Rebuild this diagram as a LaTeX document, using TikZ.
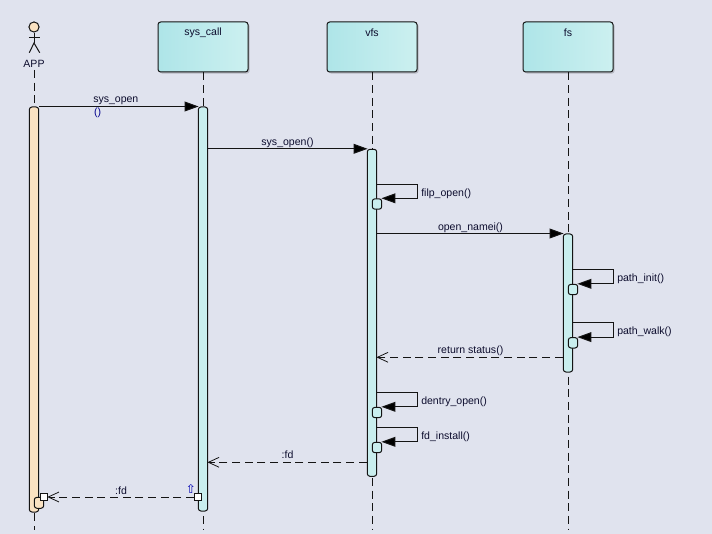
\documentclass[tikz,border=0pt]{standalone}
\usepackage{fontspec}
\setmainfont{Liberation Sans}
\newfontfamily\symfont{DejaVu Sans}
\usetikzlibrary{arrows.meta,shadows}

\definecolor{diagrambg}{RGB}{224,227,238}
\definecolor{linedark}{RGB}{20,20,20}
\definecolor{labelnavy}{RGB}{12,12,45}
\definecolor{headleft}{RGB}{174,229,232}
\definecolor{headright}{RGB}{204,240,240}
\definecolor{barblue}{RGB}{201,238,238}
\definecolor{barskin}{RGB}{250,226,194}

\tikzset{
    headbox/.style={draw=linedark,line width=0.75pt,rounded corners=2pt,minimum width=67.5pt,minimum height=37.5pt,inner sep=0pt,left color=headleft,right color=headright,drop shadow={shadow xshift=1.2pt,shadow yshift=-1.2pt,fill=black,opacity=0.18}},
    lifeline/.style={draw=linedark,line width=0.75pt,dash pattern={on 6pt off 3.5pt}},
    actbar/.style={draw=linedark,line width=0.75pt,rounded corners=2pt,minimum width=7.1pt,inner sep=0pt,fill=barblue},
    selfbox/.style={draw=linedark,line width=0.75pt,rounded corners=2pt,minimum width=7.1pt,minimum height=7.8pt,inner sep=0pt,fill=barblue},
    retsquare/.style={draw=linedark,line width=0.75pt,minimum size=5.4pt,inner sep=0pt,fill=white},
    call/.style={draw=linedark,line width=0.75pt,shorten >=-0.6pt,-{Triangle[length=10.5pt,width=7.4pt,fill=black]}},
    reply/.style={draw=linedark,line width=0.75pt,dash pattern={on 6pt off 3.5pt},shorten >=-0.6pt,-{Straight Barb[length=8pt,width=7.4pt,line width=0.6pt]}},
    msg/.style={inner sep=0pt,text=labelnavy,font=\fontsize{7.9}{9.5}\selectfont}
}

\begin{document}
\begin{tikzpicture}[x=0.75pt,y=0.75pt,yscale=-1,xscale=1]
    \fill [diagrambg] (0,0) rectangle (712,534);
    \useasboundingbox (0,0) rectangle (712,534);

    % Lifelines
    \coordinate (append) at (34,530);
    \coordinate (syscallend) at (203,530);
    \coordinate (vfsend) at (372,530);
    \coordinate (fsend) at (568,530);
    \coordinate (appstart) at (34,70);

    % Head boxes
    \node [headbox] (syscallhead) at (203,47) {};
    \node [headbox] (vfshead) at (372,47) {};
    \node [headbox] (fshead) at (568,47) {};
    \node [msg] (syscalltext) at (203,32.5) {sys\_call};
    \node [msg] (vfstext) at (372,32.5) {vfs};
    \node [msg] (fstext) at (568,32.5) {fs};

    \draw [lifeline] (appstart) -- (append);
    \draw [lifeline] (syscallhead.south) -- (syscallend);
    \draw [lifeline] (vfshead.south) -- (vfsend);
    \draw [lifeline] (fshead.south) -- (fsend);

    % Actor
    \node [circle,draw=linedark,line width=0.75pt,fill=barskin,minimum size=7.6pt,inner sep=0pt] (apphead) at (34,27) {};
    \coordinate (apphip) at (34,43);
    \coordinate (appfootl) at (29.3,52.7);
    \coordinate (appfootr) at (39.7,52.7);
    \coordinate (apparml) at (28.8,37.3);
    \coordinate (apparmr) at (39.7,37.3);
    \draw [linedark,line width=0.75pt] (apphead.south) -- (apphip);
    \draw [linedark,line width=0.75pt] (apparml) -- (apparmr);
    \draw [linedark,line width=0.75pt] (appfootl) -- (apphip) -- (appfootr);
    \node [msg] (apptext) at (34,64) {APP};

    % Activation bars
    \node [actbar,fill=barskin,minimum height=303.75pt] (appbar) at (34,309.5) {};
    \node [actbar,minimum height=303pt] (syscallbar) at (203,309) {};
    \node [actbar,minimum height=245.25pt] (vfsbar) at (372,312.8) {};
    \node [actbar,minimum height=103.5pt] (fsbar) at (568,303) {};

    % Nested bar of the actor
    \node [actbar,fill=barskin,minimum height=8.2pt] (appnested) at (39,502.8) {};

    % sys_open from the actor
    \draw [call] (appbar.north east) -- (syscallbar.north west);
    \node [msg,anchor=north west,fill=diagrambg,inner sep=1pt,text=blue!55!black] (sysopenparen) at (92.5,106.5) {()};
    \node [msg,anchor=west] (sysopentext) at (93,101) {sys\_open};

    % sys_open to vfs
    \draw [call] (syscallbar.east |- vfsbar.north) -- (vfsbar.north west);
    \node [msg] (sysopentwo) at (287.5,143) {sys\_open()};

    % filp_open
    \coordinate (filptop) at (417.7,184.3);
    \node [selfbox] (filpbox) at (377,204) {};
    \draw [call] (vfsbar.east |- filptop) -- (filptop) |- (filpbox.north east);
    \node [msg,anchor=west] (filptext) at (421,193.5) {filp\_open()};

    % open_namei
    \draw [call] (vfsbar.east |- fsbar.north) -- (fsbar.north west);
    \node [msg] (nameitext) at (470.5,228) {open\_namei()};

    % path_init
    \coordinate (inittop) at (613.3,269.3);
    \node [selfbox] (initbox) at (573,289.5) {};
    \draw [call] (fsbar.east |- inittop) -- (inittop) |- (initbox.north east);
    \node [msg,anchor=west] (inittext) at (617,278.5) {path\_init()};

    % path_walk
    \coordinate (walktop) at (613.3,322.3);
    \node [selfbox] (walkbox) at (573,342.8) {};
    \draw [call] (fsbar.east |- walktop) -- (walktop) |- (walkbox.north east);
    \node [msg,anchor=west] (walktext) at (617,331.5) {path\_walk()};

    % return status
    \coordinate (statusrow) at (470,357.3);
    \draw [reply] (fsbar.west |- statusrow) -- (vfsbar.east |- statusrow);
    \node [msg] (statustext) at (470.5,351) {return status()};

    % dentry_open
    \coordinate (dentrytop) at (417.7,392.3);
    \node [selfbox] (dentrybox) at (377,412.5) {};
    \draw [call] (vfsbar.east |- dentrytop) -- (dentrytop) |- (dentrybox.north east);
    \node [msg,anchor=west] (dentrytext) at (421,401.5) {dentry\_open()};

    % fd_install
    \coordinate (installtop) at (417.7,427.3);
    \node [selfbox] (installbox) at (377,447.5) {};
    \draw [call] (vfsbar.east |- installtop) -- (installtop) |- (installbox.north east);
    \node [msg,anchor=west] (installtext) at (421,436.5) {fd\_install()};

    % reply to sys_call
    \coordinate (fdrow) at (287,462.3);
    \draw [reply] (vfsbar.west |- fdrow) -- (syscallbar.east |- fdrow);
    \node [msg] (fdtext) at (287.5,455) {:fd};

    % reply to the actor
    \node [retsquare] (fdleft) at (44,497) {};
    \node [retsquare] (fdright) at (198,497) {};
    \draw [reply] (fdright.west) -- (fdleft.east);
    \node [msg] (fdtexttwo) at (121,490.5) {:fd};
    \node [msg,text=blue!70!black,font=\symfont\fontsize{9}{10}\selectfont] (uparrow) at (191,488.5) {⇧};
\end{tikzpicture}
\end{document}
